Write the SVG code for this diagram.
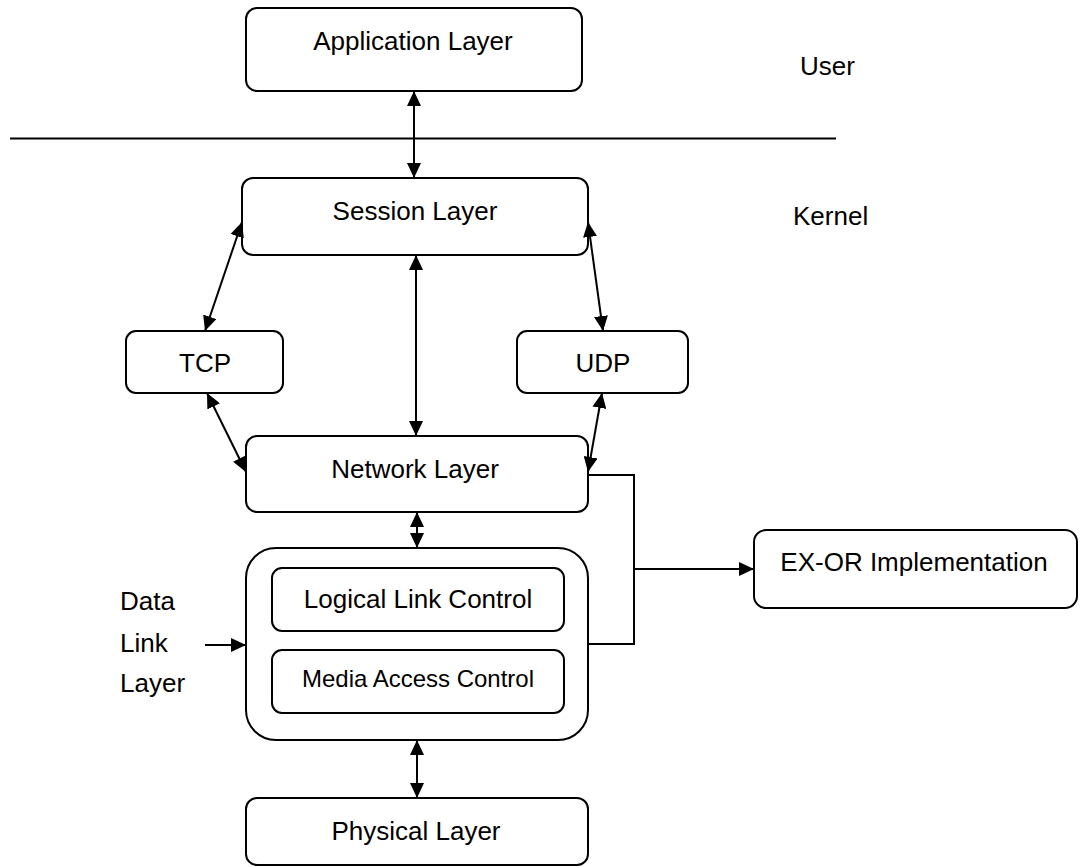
<svg xmlns="http://www.w3.org/2000/svg" width="1086" height="867" viewBox="0 0 1086 867">
<style>
.box{fill:#fff;stroke:#000;stroke-width:2}
.t{font-family:"Liberation Sans",Arial,sans-serif;font-size:26px;fill:#000}
.c{text-anchor:middle}
.ln{fill:none;stroke:#000;stroke-width:2}
.a2{marker-start:url(#ah);marker-end:url(#ah)}
.a1{marker-end:url(#ah)}
</style>
<defs>
<marker id="ah" viewBox="0 0 15 14" refX="15" refY="7" markerWidth="15" markerHeight="14" markerUnits="userSpaceOnUse" orient="auto-start-reverse">
<path d="M0,0 L15,7 L0,14 z" fill="#000"/>
</marker>
</defs>
<rect x="0" y="0" width="1086" height="867" fill="#fff"/>
<line x1="10" y1="138.5" x2="836" y2="138.5" stroke="#000" stroke-width="2"/>
<text class="t" x="800" y="75">User</text>
<text class="t" x="793" y="225">Kernel</text>
<text class="t" x="120" y="610">Data</text>
<text class="t" x="120" y="652">Link</text>
<text class="t" x="120" y="692">Layer</text>
<g id="app"><rect class="box" x="246" y="8" width="336" height="83" rx="11"/><text class="t c" x="413" y="50">Application Layer</text></g>
<g id="session"><rect class="box" x="242" y="178" width="346" height="77" rx="11"/><text class="t c" x="415" y="220">Session Layer</text></g>
<g id="tcp"><rect class="box" x="126" y="331" width="157" height="62" rx="10"/><text class="t c" x="205" y="372">TCP</text></g>
<g id="udp"><rect class="box" x="517" y="331" width="171" height="62" rx="10"/><text class="t c" x="603" y="372">UDP</text></g>
<g id="network"><rect class="box" x="246" y="436" width="342" height="76" rx="11"/><text class="t c" x="415" y="478">Network Layer</text></g>
<g id="datalink"><rect class="box" x="246" y="548" width="342" height="192" rx="30"/>
<g id="llc"><rect class="box" x="272" y="568" width="292" height="63" rx="10"/><text class="t c" x="418" y="608">Logical Link Control</text></g>
<g id="mac"><rect class="box" x="272" y="650" width="292" height="63" rx="10"/><text class="t c" x="418" y="687" style="font-size:24px">Media Access Control</text></g>
</g>
<g id="physical"><rect class="box" x="246" y="798" width="342" height="67" rx="11"/><text class="t c" x="416" y="840">Physical Layer</text></g>
<g id="exor"><rect class="box" x="754" y="530" width="323" height="78" rx="12"/><text class="t c" x="914" y="571">EX-OR Implementation</text></g>
<g id="connectors">
<line class="ln a2" x1="414" y1="91" x2="414" y2="178"/>
<line class="ln a2" x1="242" y1="222" x2="205" y2="331"/>
<line class="ln a2" x1="416" y1="255" x2="416" y2="436"/>
<line class="ln a2" x1="588" y1="222" x2="603" y2="331"/>
<line class="ln a2" x1="207" y1="393" x2="246" y2="472"/>
<line class="ln a2" x1="602" y1="393" x2="588" y2="472"/>
<line class="ln a2" x1="417" y1="512" x2="417" y2="548"/>
<line class="ln a2" x1="417" y1="740" x2="417" y2="798"/>
<line class="ln a1" x1="205" y1="645" x2="246" y2="645"/>
<polyline class="ln" points="588,475 634,475 634,644 588,644"/>
<line class="ln a1" x1="634" y1="569" x2="754" y2="569"/>
</g>
</svg>
